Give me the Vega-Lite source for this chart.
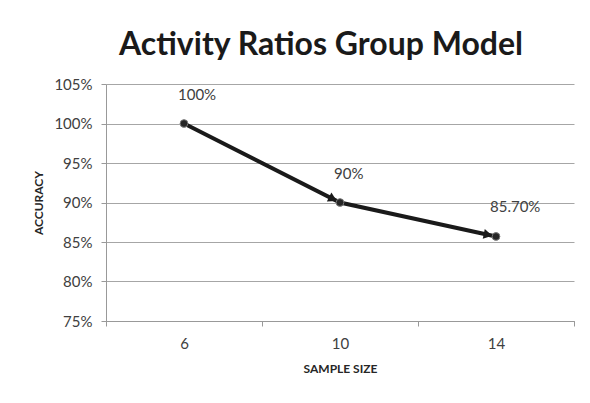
{
  "$schema": "https://vega.github.io/schema/vega-lite/v6.json",
  "width": 468,
  "height": 237,
  "autosize": "none",
  "padding": {"left": 106, "top": 84, "right": 16, "bottom": 82},
  "background": "white",
  "config": {
    "view": {"stroke": null},
    "font": "Lato",
    "axis": {"labelFont": "Lato", "titleFont": "Lato", "labelColor": "#404040", "titleColor": "#262626", "domainColor": "#999999", "tickColor": "#999999", "gridColor": "#a6a6a6"}
  },
  "title": {
    "text": "Activity Ratios Group Model",
    "font": "Lato",
    "fontSize": 32,
    "fontWeight": "bold",
    "color": "#1a1a1a",
    "anchor": "middle",
    "dx": -19,
    "offset": 15
  },
  "data": {
    "values": [
      {"size": 6, "acc": 1.0, "label": "100%"},
      {"size": 10, "acc": 0.9, "label": "90%"},
      {"size": 14, "acc": 0.857, "label": "85.70%"}
    ]
  },
  "encoding": {
    "y": {"field": "acc", "type": "quantitative", "scale": {"domain": [0.75, 1.05], "nice": false, "zero": false},
      "axis": {"values": [0.75, 0.8, 0.85, 0.9, 0.95, 1.0, 1.05], "format": ".0%", "labelOverlap": false, "labelFontSize": 15, "labelPadding": 9, "tickSize": 5, "title": "ACCURACY", "titleFontSize": 12, "titleFontWeight": "bold", "titlePadding": 8}}
  },
  "resolve": {"axis": {"x": "independent"}},
  "layer": [
    {
      "mark": {"type": "line", "color": "#1a1a1a", "strokeWidth": 4},
      "encoding": {
        "x": {"field": "size", "type": "quantitative", "scale": {"domain": [4, 16], "nice": false, "zero": false},
          "axis": {"values": [6, 10, 14], "ticks": false, "grid": false, "labelFontSize": 15, "labelPadding": 15, "title": "SAMPLE SIZE", "titleFontSize": 12, "titleFontWeight": "bold", "titlePadding": 12, "orient": "bottom"}}
      }
    },
    {
      "transform": [{"filter": "datum.size == 10"}],
      "mark": {"type": "point", "shape": "triangle-right", "filled": true, "color": "#1a1a1a", "size": 100, "angle": 27, "opacity": 1, "xOffset": -7, "yOffset": -3.5},
      "encoding": {
        "x": {"field": "size", "type": "quantitative", "axis": {"values": [4, 8, 12, 16], "labels": false, "grid": false, "tickSize": 5, "title": null, "orient": "bottom"}}
      }
    },
    {
      "transform": [{"filter": "datum.size == 14"}],
      "mark": {"type": "point", "shape": "triangle-right", "filled": true, "color": "#1a1a1a", "size": 100, "angle": 12, "opacity": 1, "xOffset": -8, "yOffset": -1.7},
      "encoding": {
        "x": {"field": "size", "type": "quantitative", "axis": null}
      }
    },
    {
      "mark": {"type": "point", "filled": true, "color": "#262626", "stroke": "#777777", "strokeWidth": 1, "size": 60, "opacity": 1},
      "encoding": {
        "x": {"field": "size", "type": "quantitative", "axis": null}
      }
    },
    {
      "mark": {"type": "text", "align": "left", "dx": -6, "dy": -29, "fontSize": 15, "color": "#404040", "font": "Lato"},
      "encoding": {
        "x": {"field": "size", "type": "quantitative", "axis": null},
        "text": {"field": "label"}
      }
    }
  ]
}
